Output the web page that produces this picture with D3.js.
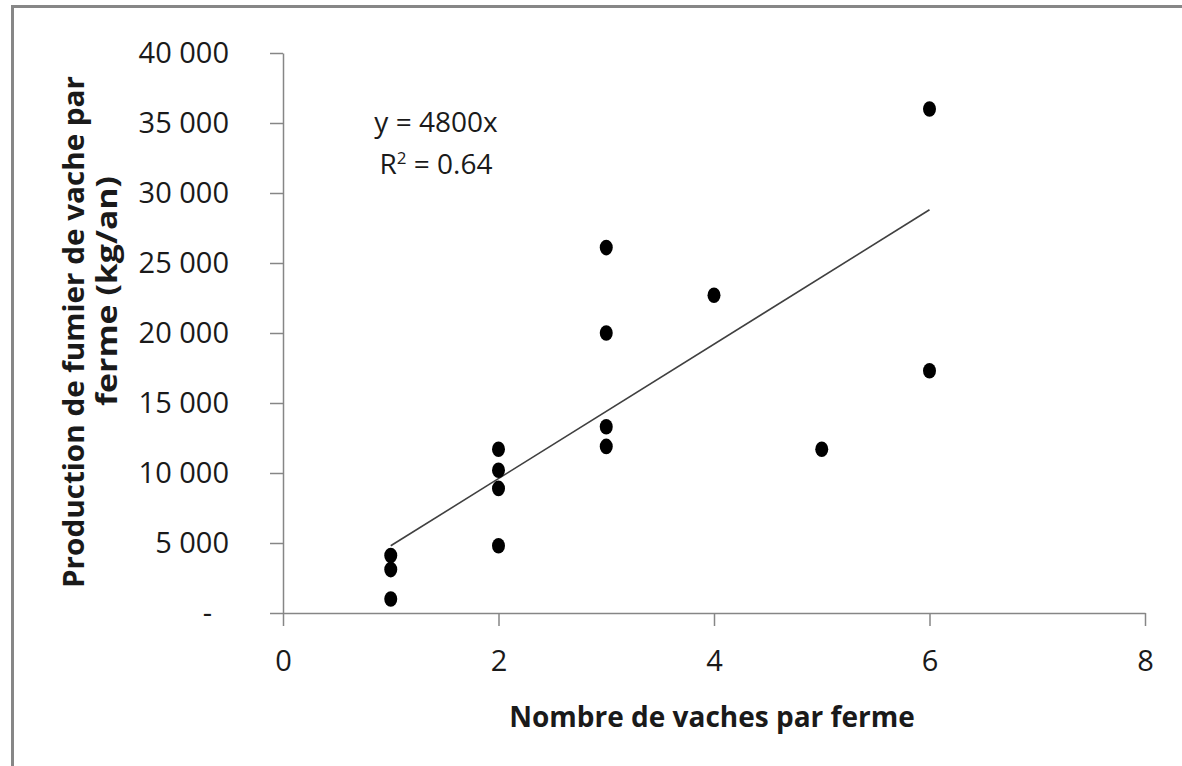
<!DOCTYPE html>
<html>
<head>
<meta charset="utf-8">
<script src="https://cdn.jsdelivr.net/npm/d3@7"></script>
<style>
  body { margin: 0; background: #fff; }
  text { font-family: "Open Sans", sans-serif; fill: #1a1a1a; }
</style>
</head>
<body>
<div id="chart"></div>
<script>
// cows per farm vs. manure per farm (kg/yr)
const cows   = [1, 1, 1, 2, 2, 2, 2, 3, 3, 3, 3, 4, 5, 6, 6];
const manure = [4100, 3100, 1000, 11700, 10200, 8900, 4800, 26100, 20000, 13300, 11900, 22700, 11700, 36000, 17300];
const xTicks = [0, 2, 4, 6, 8];
const yTicks = [0, 5000, 10000, 15000, 20000, 25000, 30000, 35000, 40000];
const slope = 4800;      // y = 4800x
const fitRange = [1, 6];

const width = 1182, height = 766;

const svg = d3.select('#chart')
  .append('svg')
  .attr('width', width)
  .attr('height', height);

svg.append('rect')
  .attr('width', width).attr('height', height)
  .attr('fill', '#fff');

// frame (only top and left edges show)
svg.append('rect')
  .attr('x', 12.5).attr('y', 6.5)
  .attr('width', width + 20).attr('height', height + 20)
  .attr('fill', 'none')
  .attr('stroke', '#878787')
  .attr('stroke-width', 3);

const x = d3.scaleLinear().domain([0, 8]).range([283, 1145]);
const y = d3.scaleLinear().domain([0, 40000]).range([613, 53]);

const fr = d3.formatLocale({ decimal: ',', thousands: ' ', grouping: [3], currency: ['', ''] });
const fmt = fr.format(',d');

const axisColor = '#868686';

// y axis
const gy = svg.append('g')
  .attr('transform', `translate(${x(0)},0)`)
  .call(d3.axisLeft(y)
    .tickValues(yTicks)
    .tickSize(13)
    .tickSizeOuter(0)
    .tickPadding(41)
    .tickFormat(d => d === 0 ? '-' : fmt(d)));

// x axis
const gx = svg.append('g')
  .attr('transform', `translate(0,${y(0)})`)
  .call(d3.axisBottom(x)
    .tickValues(xTicks)
    .tickSize(13)
    .tickSizeOuter(0)
    .tickPadding(24)
    .tickFormat(d3.format('d')));

[gx, gy].forEach(g => {
  g.select('.domain').attr('stroke', axisColor).attr('stroke-width', 1.5);
  g.selectAll('.tick line').attr('stroke', axisColor).attr('stroke-width', 1.5);
  g.selectAll('.tick text')
    .attr('fill', '#1a1a1a')
    .style('font-family', '"Open Sans", sans-serif')
    .style('font-size', '29px');
});

// accounting-style dash for zero
gy.selectAll('.tick text').filter(d => d === 0).attr('dx', -17);

// trend line
const line = d3.line().x(d => x(d)).y(d => y(slope * d));
svg.append('path')
  .attr('d', line(fitRange))
  .attr('fill', 'none')
  .attr('stroke', '#404040')
  .attr('stroke-width', 1.6);

// points
svg.append('g')
  .selectAll('ellipse')
  .data(cows.map((c, i) => [c, manure[i]]))
  .enter()
  .append('ellipse')
  .attr('cx', d => x(d[0]))
  .attr('cy', d => y(d[1]))
  .attr('rx', 6.5)
  .attr('ry', 7.8)
  .attr('fill', '#000');

// equation label
const eq = svg.append('text')
  .attr('x', 436)
  .attr('text-anchor', 'middle')
  .style('font-size', '28px');
eq.append('tspan').attr('x', 436).attr('y', 132).text('y = 4800x');
const r2 = eq.append('tspan').attr('x', 436).attr('y', 174);
r2.append('tspan').text('R');
r2.append('tspan').attr('dy', -10).style('font-size', '17px').text('2');
r2.append('tspan').attr('dy', 10).text(' = 0.64');

// axis titles
svg.append('text')
  .attr('x', 712).attr('y', 727)
  .attr('text-anchor', 'middle')
  .style('font-size', '28px')
  .style('font-weight', 'bold')
  .text('Nombre de vaches par ferme');

svg.append('text')
  .attr('transform', 'translate(84,332) rotate(-90)')
  .attr('text-anchor', 'middle')
  .attr('textLength', 512)
  .attr('lengthAdjust', 'spacingAndGlyphs')
  .style('font-size', '29px')
  .style('font-weight', 'bold')
  .text('Production de fumier de vache par');

svg.append('text')
  .attr('transform', 'translate(117,291) rotate(-90)')
  .attr('text-anchor', 'middle')
  .attr('textLength', 230)
  .attr('lengthAdjust', 'spacingAndGlyphs')
  .style('font-size', '29px')
  .style('font-weight', 'bold')
  .text('ferme (kg/an)');
</script>
</body>
</html>
